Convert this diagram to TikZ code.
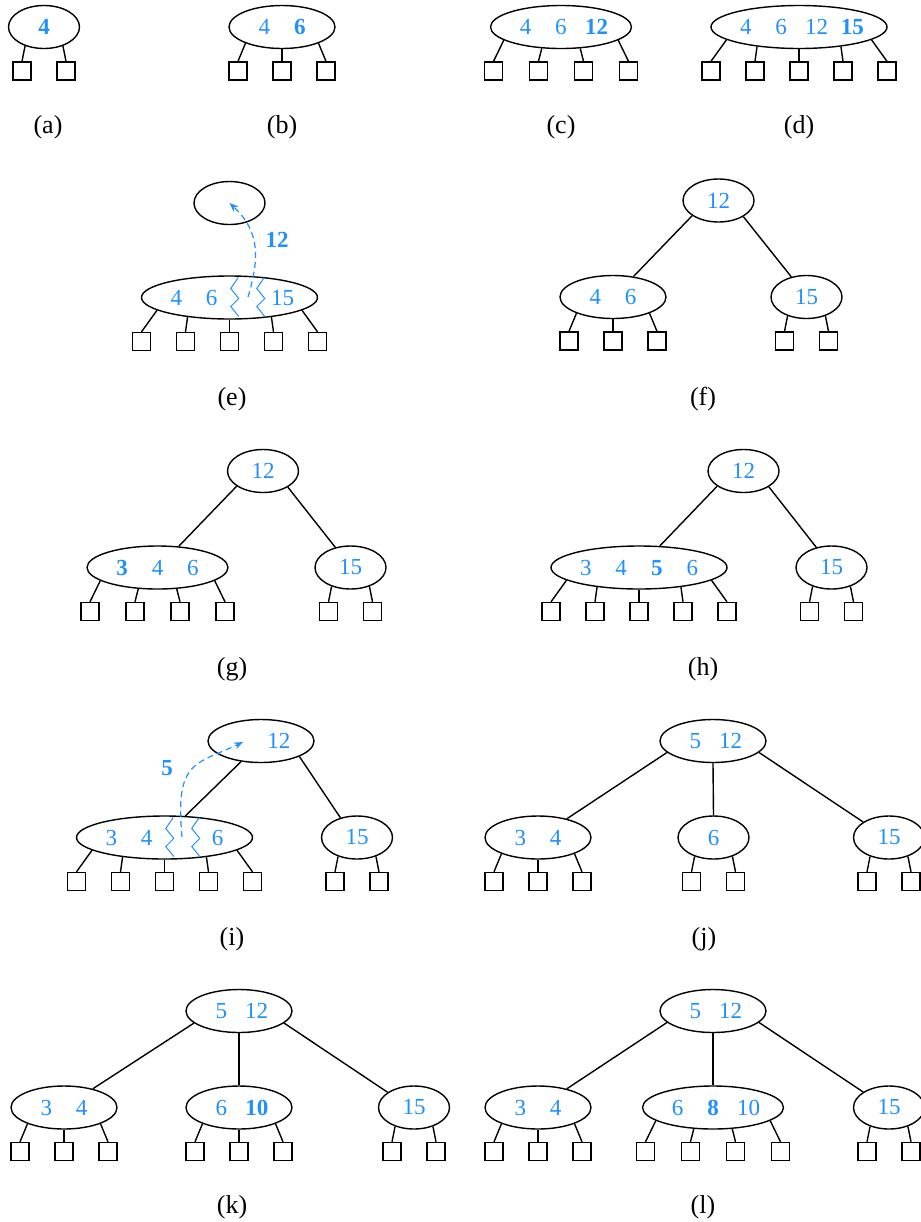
\documentclass[tikz,border=0pt]{standalone}
\usepackage{fontspec}
\setmainfont{Liberation Serif}
\usetikzlibrary{arrows.meta,shapes.geometric}
\definecolor{keyblue}{RGB}{30,144,255}
\newcommand\kslot[1]{\makebox[17.75pt]{#1}}
\newcommand\klist[1]{\makebox[0pt]{#1}}
\newcommand\twoleaves{-22/225,22/315}
\newcommand\threeleaves{-44/204,0/270,44/336}
\newcommand\fourleaves{-67.5/193,-22.5/228,22.5/312,67.5/347}
\newcommand\fiveleaves{-88/190,-44/205,0/270,44/335,88/350}
\newcommand\leafrow[2]{%
  \foreach \dx/\ang [count=\i] in #2 {
    \node[leafbox] (#1-\i) at ([shift={(\dx,44)}]#1.center) {};
    \draw[link] (#1.\ang) -- (#1-\i.north);
  }}

\begin{document}
\begin{tikzpicture}[x=0.5pt,y=-0.5pt,
  kn/.style={ellipse,draw,line width=0.7pt,inner sep=0pt,minimum height=21.5pt,text=keyblue,font=\fontsize{11.5}{13}\selectfont},
  k1/.style={kn,minimum width=35.5pt},
  k2/.style={kn,minimum width=53pt},
  k3/.style={kn,minimum width=70.5pt},
  k4/.style={kn,minimum width=88pt},
  leafbox/.style={rectangle,draw,line width=0.7pt,minimum size=9pt,inner sep=0pt},
  link/.style={line width=0.7pt},
  zig/.style={keyblue,line width=0.5pt},
  promote/.style={keyblue,line width=0.6pt,dash pattern=on 3pt off 2pt,-{Stealth[length=4.5pt,width=3.5pt]}},
  moved/.style={text=keyblue,font=\fontsize{11.5}{13}\selectfont\bfseries},
  panel/.style={font=\fontsize{13}{15}\selectfont}]
\useasboundingbox (0,0) rectangle (921,1222);
% (a)-(d)
\node[k1] (a-r) at (44,27) {\klist{\kslot{\textbf{4}}}};
\node[k2] (b-r) at (282,27) {\klist{\kslot{4}\kslot{\textbf{6}}}};
\node[k3] (c-r) at (561,27) {\klist{\kslot{4}\kslot{6}\kslot{\textbf{12}}}};
\node[k4] (d-r) at (799,27) {\klist{\kslot{4}\kslot{6}\kslot{12}\kslot{\textbf{15}}}};
\leafrow{a-r}{\twoleaves} \leafrow{b-r}{\threeleaves}
\leafrow{c-r}{\fourleaves} \leafrow{d-r}{\fiveleaves}
\node[panel] (a-lab) at (48,127.5) {(a)};
\node[panel] (b-lab) at (282,127.5) {(b)};
\node[panel] (c-lab) at (561,127.5) {(c)};
\node[panel] (d-lab) at (799,127.5) {(d)};
% (e)
\node[k1] (e-t) at (229.5,203) {\klist{}};
\node[k4] (e-r) at (229.5,297.5) {\klist{\kslot{4}\kslot{6}\kslot{}\kslot{15}}};
\leafrow{e-r}{\fiveleaves}
\foreach \s in {0,26}
  \draw[zig,shift={(247.25+\s,297.5)}] (-9,-20) -- (-16.5,-9) -- (-8.5,1) -- (-16.5,9) -- (-8.5,19);
\coordinate (e-s) at (248,297);
\draw[promote] (e-s) .. controls +(12,-40) and +(30,28) .. (e-t.center);
\node[moved] (e-key) at (277,240) {12};
\node[panel] (e-lab) at (232,399) {(e)};
% (f)
\node[k1] (f-r) at (718.5,200.5) {\klist{\kslot{12}}};
\node[k2] (f-1) at (613,297) {\klist{\kslot{4}\kslot{6}}};
\node[k1] (f-2) at (806.5,297) {\klist{\kslot{15}}};
\leafrow{f-1}{\threeleaves} \leafrow{f-2}{\twoleaves}
\node[panel] (f-lab) at (703,399) {(f)};
% (g)
\node[k1] (g-r) at (263,471) {\klist{\kslot{12}}};
\node[k3] (g-1) at (157.5,567.5) {\klist{\kslot{\textbf{3}}\kslot{4}\kslot{6}}};
\node[k1] (g-2) at (350.5,567.5) {\klist{\kslot{15}}};
\leafrow{g-1}{\fourleaves} \leafrow{g-2}{\twoleaves}
\node[panel] (g-lab) at (232,669) {(g)};
% (h)
\node[k1] (h-r) at (743.5,471) {\klist{\kslot{12}}};
\node[k4] (h-1) at (639,567.5) {\klist{\kslot{3}\kslot{4}\kslot{\textbf{5}}\kslot{6}}};
\node[k1] (h-2) at (831.5,567.5) {\klist{\kslot{15}}};
\leafrow{h-1}{\fiveleaves} \leafrow{h-2}{\twoleaves}
\node[panel] (h-lab) at (703,669) {(h)};
% (i)
\node[k2] (i-r) at (261,741) {\klist{\kslot{}\kslot{12}}};
\node[k4] (i-1) at (164.5,837.5) {\klist{\kslot{3}\kslot{4}\kslot{}\kslot{6}}};
\node[k1] (i-2) at (357,837.5) {\klist{\kslot{15}}};
\leafrow{i-1}{\fiveleaves} \leafrow{i-2}{\twoleaves}
\foreach \s in {0,26}
  \draw[zig,shift={(182.25+\s,837.5)}] (-9,-20) -- (-16.5,-9) -- (-8.5,1) -- (-16.5,9) -- (-8.5,19);
\coordinate (i-s) at (182,837);
\coordinate (i-t) at (243,742);
\draw[promote] (i-s) .. controls +(-7,-77) and +(-48,23) .. (i-t);
\node[moved] (i-key) at (167,768) {5};
\node[panel] (i-lab) at (232,939) {(i)};
% (j)
\node[k2] (j-r) at (713,741) {\klist{\kslot{5}\kslot{12}}};
\node[k2] (j-1) at (538,837.5) {\klist{\kslot{3}\kslot{4}}};
\node[k1] (j-2) at (713.5,837.5) {\klist{\kslot{6}}};
\node[k1] (j-3) at (889,837.5) {\klist{\kslot{15}}};
\leafrow{j-1}{\threeleaves} \leafrow{j-2}{\twoleaves} \leafrow{j-3}{\twoleaves}
\node[panel] (j-lab) at (704,939) {(j)};
% (k)
\node[k2] (k-r) at (239,1011) {\klist{\kslot{5}\kslot{12}}};
\node[k2] (k-1) at (64,1107.5) {\klist{\kslot{3}\kslot{4}}};
\node[k2] (k-2) at (239,1107.5) {\klist{\kslot{6}\kslot{\textbf{10}}}};
\node[k1] (k-3) at (414,1107.5) {\klist{\kslot{15}}};
\leafrow{k-1}{\threeleaves} \leafrow{k-2}{\threeleaves} \leafrow{k-3}{\twoleaves}
\node[panel] (k-lab) at (232,1207) {(k)};
% (l)
\node[k2] (l-r) at (713,1011) {\klist{\kslot{5}\kslot{12}}};
\node[k2] (l-1) at (538,1107.5) {\klist{\kslot{3}\kslot{4}}};
\node[k3] (l-2) at (713,1107.5) {\klist{\kslot{6}\kslot{\textbf{8}}\kslot{10}}};
\node[k1] (l-3) at (889,1107.5) {\klist{\kslot{15}}};
\leafrow{l-1}{\threeleaves} \leafrow{l-2}{\fourleaves} \leafrow{l-3}{\twoleaves}
\node[panel] (l-lab) at (703,1207) {(l)};
% parent-child links
\foreach \u/\v in {f-r.210/f-1.45, f-r.327/f-2.127, g-r.210/g-1.45, g-r.327/g-2.127,
  h-r.210/h-1.46, h-r.328/h-2.127, i-r.226/i-1.46, i-r.338/i-2.130,
  j-r.194/j-1.33, j-r.270/j-2.90, j-r.346/j-3.149,
  k-r.195/k-1.33, k-r.270/k-2.90, k-r.345/k-3.150,
  l-r.194/l-1.33, l-r.270/l-2.90, l-r.346/l-3.149}
  \draw[link] (\u) -- (\v);
\end{tikzpicture}
\end{document}
